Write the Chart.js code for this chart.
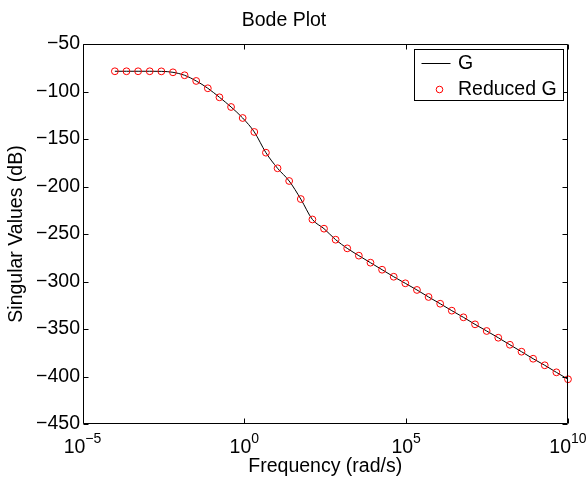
<!DOCTYPE html>
<html><head><meta charset="utf-8">
<script src="https://cdn.jsdelivr.net/npm/chart.js@4/dist/chart.umd.min.js"></script>
<style>html,body{margin:0;padding:0;background:#fff;overflow:hidden}canvas{display:block}</style>
</head><body>
<canvas id="c" width="587" height="477" style="width:587px;height:477px"></canvas>
<script>
const chartTitle = 'Bode Plot';
const xAxisTitle = 'Frequency (rad/s)';
const yAxisTitle = 'Singular Values (dB)';
const seriesNames = ['G', 'Reduced G'];

const frequency = [
  1e-4, 2.286e-4, 5.224e-4, 1.194e-3, 2.729e-3, 6.237e-3, 1.426e-2, 3.258e-2, 7.447e-2, 0.1702,
  0.3890, 0.8891, 2.032, 4.645, 10.62, 24.27, 55.46, 126.8, 289.7, 662.2,
  1510, 3451, 7889, 1.803e4, 4.121e4, 9.419e4, 2.153e5, 4.920e5, 1.125e6, 2.570e6,
  5.875e6, 1.343e7, 3.069e7, 7.015e7, 1.603e8, 3.664e8, 8.375e8, 1.914e9, 4.375e9, 1e10
];
const singularValuesG = [
  -78.7, -78.7, -78.7, -78.7, -78.8, -79.8, -82.9, -88.9, -96.6, -106.1,
  -116.3, -127.9, -142.6, -164.4, -180.8, -194.2, -213.2, -234.7, -244.4, -256.0,
  -265.1, -272.8, -280.2, -287.6, -295.0, -301.9, -308.9, -316.3, -323.4, -330.7,
  -337.7, -345.1, -352.1, -359.2, -366.6, -373.9, -381.3, -388.2, -395.6, -402.9
];
const singularValuesReducedG = [
  -78.7, -78.7, -78.7, -78.7, -78.8, -79.8, -82.9, -88.9, -96.6, -106.1,
  -116.3, -127.9, -142.6, -164.4, -180.8, -194.2, -213.2, -234.7, -244.4, -256.0,
  -265.1, -272.8, -280.2, -287.6, -295.0, -301.9, -308.9, -316.3, -323.4, -330.7,
  -337.7, -345.1, -352.1, -359.2, -366.6, -373.9, -381.3, -388.2, -395.6, -402.9
];
const xTickExponents = [-5, 0, 5, 10];
const yTicks = [-450, -400, -350, -300, -250, -200, -150, -100, -50];

const FONT = '"Liberation Sans", Arial, Helvetica, sans-serif';
const FS = 19.5;

const matlabAxes = {
  id: 'matlabAxes',
  afterDraw(chart) {
    const ctx = chart.ctx;
    const a = chart.chartArea;
    const xs = chart.scales.x, ys = chart.scales.y;
    ctx.save();
    ctx.strokeStyle = '#000';
    ctx.lineWidth = 1;
    const L = Math.round(a.left) + 0.5, R = Math.round(a.right) - 0.5;
    const T = Math.round(a.top) + 0.5, B = Math.round(a.bottom) - 0.5;
    ctx.beginPath();
    ctx.rect(L, T, R - L, B - T);
    ctx.stroke();
    const tl = 5;
    ctx.beginPath();
    xTickExponents.forEach(e => {
      const px = Math.round(xs.getPixelForValue(Math.pow(10, e))) + 0.5;
      ctx.moveTo(px, B); ctx.lineTo(px, B - tl);
      ctx.moveTo(px, T); ctx.lineTo(px, T + tl);
    });
    yTicks.forEach(v => {
      const py = Math.round(ys.getPixelForValue(v)) + 0.5;
      ctx.moveTo(L, py); ctx.lineTo(L + tl, py);
      ctx.moveTo(R, py); ctx.lineTo(R - tl, py);
    });
    ctx.stroke();

    // x tick labels with superscript exponents
    ctx.fillStyle = '#000';
    ctx.textBaseline = 'alphabetic';
    ctx.textAlign = 'left';
    xTickExponents.forEach(e => {
      const px = xs.getPixelForValue(Math.pow(10, e));
      const base = '10';
      const exp = e < 0 ? '\u2212' + Math.abs(e) : String(e);
      ctx.font = FS + 'px ' + FONT;
      const wb = ctx.measureText(base).width;
      ctx.font = '14px ' + FONT;
      const we = ctx.measureText(exp).width;
      const x0 = px - (wb + we) / 2;
      ctx.font = FS + 'px ' + FONT;
      ctx.fillText(base, x0, a.bottom + 29.3);
      ctx.font = '14px ' + FONT;
      ctx.fillText(exp, x0 + wb, a.bottom + 19.3);
    });

    // legend
    const ds = chart.data.datasets;
    const bx = Math.round(a.right - 154.5) + 0.5, by = Math.round(a.top + 5) + 0.5;
    const bw = 149, bh = 51;
    ctx.fillStyle = '#fff';
    ctx.fillRect(bx, by, bw, bh);
    ctx.strokeStyle = '#000';
    ctx.strokeRect(bx, by, bw, bh);
    ctx.beginPath();
    ctx.moveTo(bx + 7, by + 14); ctx.lineTo(bx + 36, by + 14);
    ctx.stroke();
    ctx.strokeStyle = '#ff0000';
    ctx.beginPath();
    ctx.arc(bx + 25, by + 40, 3.3, 0, Math.PI * 2);
    ctx.stroke();
    ctx.fillStyle = '#000';
    ctx.font = FS + 'px ' + FONT;
    ctx.textBaseline = 'middle';
    ctx.fillText(ds[0].label, bx + 43.5, by + 14.5);
    ctx.fillText(ds[1].label, bx + 43.5, by + 40.5);
    ctx.restore();
  }
};

new Chart(document.getElementById('c'), {
  type: 'line',
  data: {
    datasets: [
      {
        label: seriesNames[0],
        data: frequency.map((f, i) => ({ x: f, y: singularValuesG[i] })),
        borderColor: '#000000',
        borderWidth: 1,
        pointRadius: 0,
        fill: false,
        cubicInterpolationMode: 'monotone',
        clip: false,
        order: 1
      },
      {
        label: seriesNames[1],
        data: frequency.map((f, i) => ({ x: f, y: singularValuesReducedG[i] })),
        showLine: false,
        borderColor: '#ff0000',
        backgroundColor: 'rgba(0,0,0,0)',
        pointStyle: 'circle',
        pointRadius: 3.4,
        pointBorderWidth: 1,
        pointBorderColor: '#ff0000',
        pointBackgroundColor: 'rgba(0,0,0,0)',
        clip: false,
        order: 0
      }
    ]
  },
  options: {
    responsive: false,
    animation: false,
    devicePixelRatio: 1,
    layout: { padding: { left: 0, right: 19, top: 0, bottom: 0 } },
    plugins: {
      legend: { display: false },
      tooltip: { enabled: false },
      title: {
        display: true,
        text: chartTitle,
        color: '#000',
        font: { family: FONT, size: FS, weight: 'normal', lineHeight: 1 },
        padding: { top: 11, bottom: 13.5 }
      }
    },
    scales: {
      x: {
        type: 'logarithmic',
        position: 'bottom',
        min: 1e-5,
        max: 1e10,
        afterBuildTicks: s => { s.ticks = xTickExponents.map(e => ({ value: Math.pow(10, e) })); },
        afterFit: s => { s.height = 53; },
        grid: { display: false, drawTicks: false },
        border: { display: false },
        ticks: { display: false },
        title: {
          display: true,
          text: xAxisTitle,
          color: '#000',
          font: { family: FONT, size: FS, weight: 'normal', lineHeight: 1 },
          padding: { top: 0, bottom: 0.5 }
        }
      },
      y: {
        type: 'linear',
        min: -450,
        max: -50,
        afterBuildTicks: s => { s.ticks = yTicks.map(v => ({ value: v })); },
        afterFit: s => { s.width = 82.5; },
        grid: { display: false, drawTicks: false },
        border: { display: false },
        ticks: {
          color: '#000',
          padding: 2.5,
          font: { family: FONT, size: FS },
          callback: v => String(v).replace('-', '\u2212')
        },
        title: {
          display: true,
          text: yAxisTitle,
          color: '#000',
          font: { family: FONT, size: FS, weight: 'normal', lineHeight: 1 },
          padding: { top: 7, bottom: 0 }
        }
      }
    }
  },
  plugins: [matlabAxes]
});
</script>
</body></html>
